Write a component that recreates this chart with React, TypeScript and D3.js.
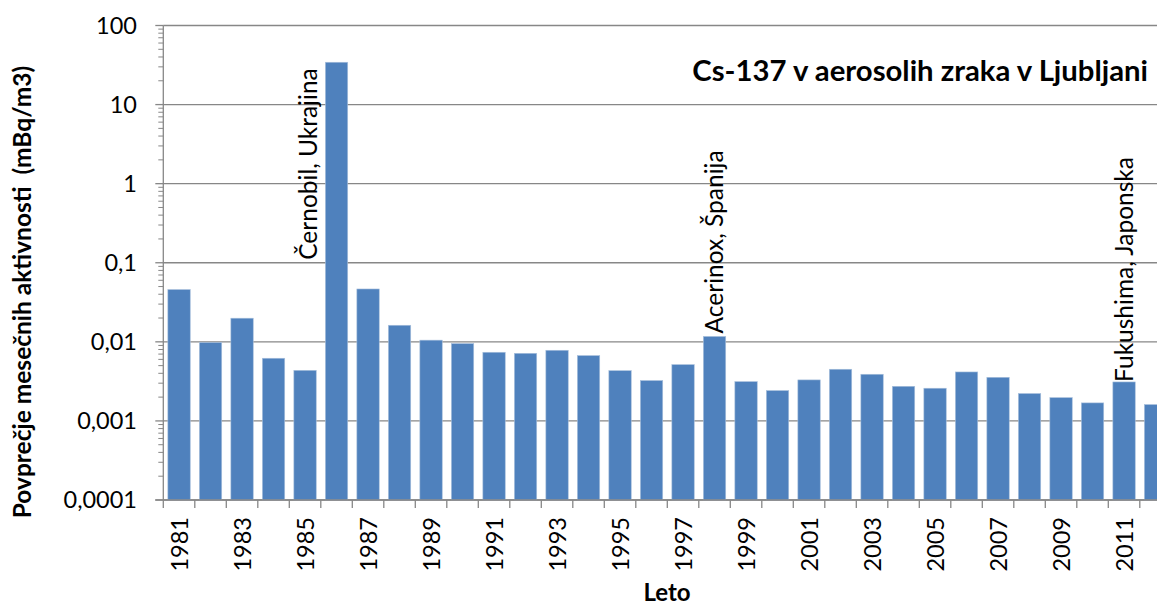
import React from "react";
import * as d3 from "d3";

const years: number[] = [
  1981, 1982, 1983, 1984, 1985, 1986, 1987, 1988, 1989, 1990, 1991, 1992, 1993, 1994, 1995, 1996,
  1997, 1998, 1999, 2000, 2001, 2002, 2003, 2004, 2005, 2006, 2007, 2008, 2009, 2010, 2011, 2012,
];
const values: number[] = [
  0.0458, 0.0098, 0.0199, 0.0062, 0.00436, 34.3, 0.0466, 0.0162, 0.0105, 0.0095, 0.00738, 0.00716,
  0.00782, 0.0067, 0.00432, 0.00324, 0.00515, 0.0117, 0.00314, 0.00242, 0.0033, 0.0045, 0.00389,
  0.00274, 0.00259, 0.00416, 0.00356, 0.00222, 0.00197, 0.00169, 0.00311, 0.00161,
];
const yTickValues: number[] = [0.0001, 0.001, 0.01, 0.1, 1, 10, 100];
const yTickLabels: string[] = ["0,0001", "0,001", "0,01", "0,1", "1", "10", "100"];
const xLabelYears: number[] = years.filter((y) => (y - 1981) % 2 === 0);
const annotationYears: number[] = [1986, 1998, 2011];
const annotationLabels: string[] = ["Černobil, Ukrajina", "Acerinox, Španija", "Fukushima, Japonska"];

const title = "Cs-137 v aerosolih zraka v Ljubljani";
const yTitle = "Povprečje mesečnih aktivnosti  (mBq/m3)";
const xTitle = "Leto";

const W = 1157;
const H = 606;
const left = 163.3;
const step = 31.5;
const right = left + step * years.length;
const top = 25.5;
const bottom = 500;

const FONT = "Lato, Carlito, Calibri, 'Noto Sans', sans-serif";
const GRID = "#878787";
const BAR = "#4F81BD";

export default function App() {
  const x = d3
    .scaleBand<number>()
    .domain(years)
    .range([left, right])
    .paddingInner(0.29)
    .paddingOuter(0.145);
  const y = d3.scaleLog().domain([0.0001, 100]).range([bottom, top]);

  const minorTicks: number[] = [];
  for (let e = -4; e < 2; e++) {
    for (let m = 2; m <= 9; m++) minorTicks.push(m * Math.pow(10, e));
  }
  const boundaries = d3.range(years.length + 1).map((i) => left + i * x.step());
  const center = (yr: number) => (x(yr) as number) + x.bandwidth() / 2;

  // annotation placement (text boxes)
  const annPos = (yr: number, i: number) => {
    const c = center(yr);
    if (i === 0) return { x: c - 20, y: y(0.1) - 3 };
    if (i === 1) return { x: c + 8, y: y(values[years.indexOf(yr)]) - 3 };
    return { x: c + 8.5, y: y(values[years.indexOf(yr)]) };
  };

  return (
    <svg
      width={W}
      height={H}
      style={{ position: "absolute", left: 0, top: 0, background: "#fff" }}
    >
      <rect x={0} y={0} width={W} height={H} fill="#fff" />
      {/* gridlines */}
      {yTickValues.map((v) => (
        <line key={"g" + v} x1={left} x2={right} y1={y(v)} y2={y(v)} stroke={GRID} strokeWidth={1.3} />
      ))}
      {/* bars */}
      {years.map((yr, i) => (
        <rect
          key={yr}
          x={x(yr)}
          y={y(values[i])}
          width={x.bandwidth()}
          height={bottom - y(values[i])}
          fill={BAR}
          stroke="#a9c0dc"
          strokeWidth={0.6}
        />
      ))}
      {/* y axis */}
      <line x1={left} x2={left} y1={top} y2={bottom} stroke={GRID} strokeWidth={1.3} />
      {yTickValues.map((v) => (
        <line key={"mt" + v} x1={left - 8} x2={left} y1={y(v)} y2={y(v)} stroke={GRID} strokeWidth={1.3} />
      ))}
      {minorTicks.map((v) => (
        <line key={"mn" + v} x1={left - 5} x2={left} y1={y(v)} y2={y(v)} stroke={GRID} strokeWidth={1} />
      ))}
      {yTickValues.map((v, i) => (
        <text
          key={"yl" + v}
          x={137}
          y={y(v)}
          dy="0.36em"
          textAnchor="end"
          fontFamily={FONT}
          fontSize={23.5}
          fill="#000"
        >
          {yTickLabels[i]}
        </text>
      ))}
      {/* x axis */}
      <line x1={left - 8} x2={right} y1={bottom} y2={bottom} stroke={GRID} strokeWidth={1.3} />
      {boundaries.map((bx, i) => (
        <line key={"xt" + i} x1={bx} x2={bx} y1={bottom} y2={bottom + 8} stroke={GRID} strokeWidth={1.3} />
      ))}
      {xLabelYears.map((yr) => {
        const cx = center(yr) + 8.5;
        const cy = 517;
        return (
          <text
            key={"xl" + yr}
            transform={`translate(${cx},${cy}) rotate(-90)`}
            textAnchor="end"
            fontFamily={FONT}
            fontSize={23.5}
            fill="#000"
          >
            {yr}
          </text>
        );
      })}
      {/* annotations */}
      {annotationYears.map((yr, i) => {
        const p = annPos(yr, i);
        return (
          <text
            key={"an" + yr}
            transform={`translate(${p.x},${p.y}) rotate(-90)`}
            textAnchor="start"
            fontFamily={FONT}
            fontSize={24.5}
            fill="#000"
          >
            {annotationLabels[i]}
          </text>
        );
      })}
      {/* title */}
      <text
        x={1148}
        y={81}
        textAnchor="end"
        fontFamily={FONT}
        fontWeight="bold"
        fontSize={29.3}
        fill="#000"
      >
        {title}
      </text>
      {/* axis titles */}
      <text
        x={667}
        y={601}
        textAnchor="middle"
        fontFamily={FONT}
        fontWeight="bold"
        fontSize={24}
        fill="#000"
      >
        {xTitle}
      </text>
      <text
        transform={`translate(31,292) rotate(-90)`}
        textAnchor="middle"
        fontFamily={FONT}
        fontWeight="bold"
        fontSize={24.5}
        fill="#000"
        style={{ whiteSpace: "pre" }}
      >
        {yTitle}
      </text>
    </svg>
  );
}
